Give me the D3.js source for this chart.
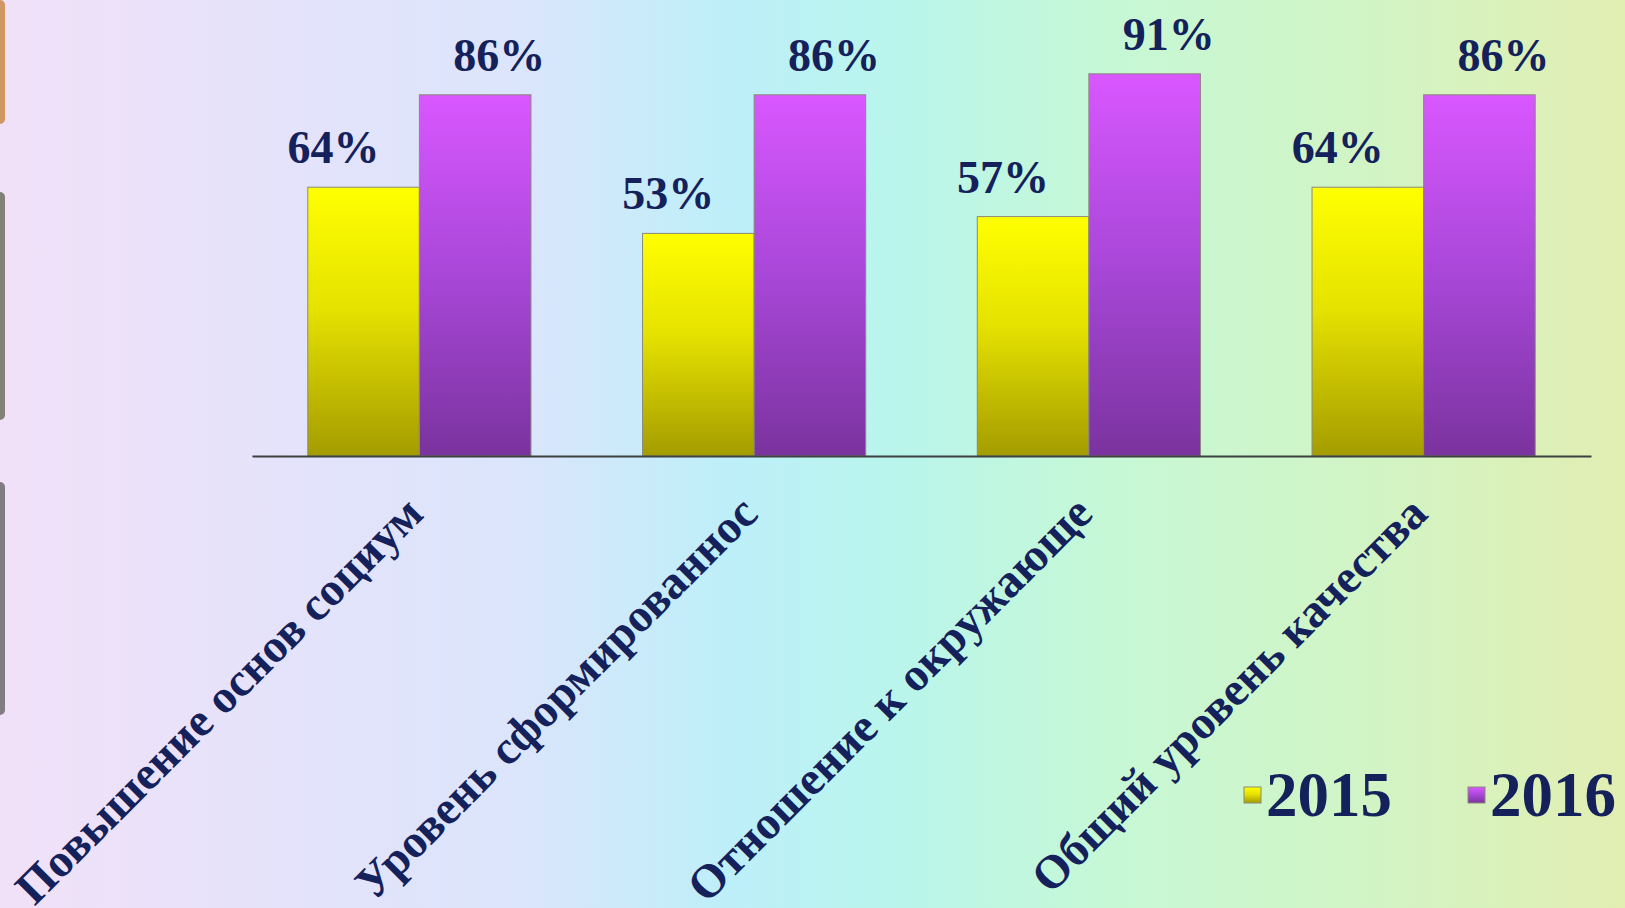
<!DOCTYPE html>
<html>
<head>
<meta charset="utf-8">
<script src="https://cdn.jsdelivr.net/npm/d3@7"></script>
<style>
    body { margin: 0; padding: 0; overflow: hidden; }
    svg { display: block; }
</style>
</head>
<body>
<svg id="vis_svg"></svg>
<script>
// Data
const categories = [
    'Повышение основ социум',
    'Уровень сформированнос',
    'Отношение к окружающе',
    'Общий уровень качества'
];
const years = ['2015', '2016'];
const values2015 = [64, 53, 57, 64];
const values2016 = [86, 86, 91, 86];
const yTicks = [0, 100];

// Global Variables
let config = {
    'svg': {},
    'plot': {},
    'label': {},
    'legend': {}
};
let scales = {};

function visSetup() {
    config.svg.width = 1625;
    config.svg.height = 908;

    config.plot.left = 252;
    config.plot.right = 1591;
    config.plot.baseline = 456;
    config.plot.top = 36;

    config.label.font = '"Liberation Serif", "Times New Roman", serif';
    config.label.color = '#14215a';

    svg = d3.select('#vis_svg')
        .attr('width', config.svg.width)
        .attr('height', config.svg.height);

    let defs = svg.append('defs');

    // background wash
    let bg = defs.append('linearGradient')
        .attr('id', 'bg')
        .attr('x1', 0).attr('x2', 1).attr('y1', 0).attr('y2', 0);
    [['0%', '#f1e1f8'], ['18%', '#e4e3fb'], ['32%', '#dbe5fb'], ['45%', '#bdeff9'],
     ['55%', '#b9f5ec'], ['68%', '#c6f8d6'], ['85%', '#d2f4c4'], ['100%', '#e2eeb2']]
        .forEach(s => bg.append('stop').attr('offset', s[0]).attr('stop-color', s[1]));

    // bar fills
    let gradYellow = defs.append('linearGradient')
        .attr('id', 'grad2015')
        .attr('x1', 0).attr('x2', 0).attr('y1', 0).attr('y2', 1);
    gradYellow.append('stop').attr('offset', '0%').attr('stop-color', '#ffff00');
    gradYellow.append('stop').attr('offset', '45%').attr('stop-color', '#e6e200');
    gradYellow.append('stop').attr('offset', '100%').attr('stop-color', '#a49c00');

    let gradPurple = defs.append('linearGradient')
        .attr('id', 'grad2016')
        .attr('x1', 0).attr('x2', 0).attr('y1', 0).attr('y2', 1);
    gradPurple.append('stop').attr('offset', '0%').attr('stop-color', '#d957ff');
    gradPurple.append('stop').attr('offset', '50%').attr('stop-color', '#a847d8');
    gradPurple.append('stop').attr('offset', '100%').attr('stop-color', '#7a339e');

    svg.append('rect')
        .attr('width', config.svg.width)
        .attr('height', config.svg.height)
        .style('fill', 'url(#bg)');

    // slide edge decorations on the left
    let edge = svg.append('g');
    [[0, 124, '#c98a48'], [192, 420, '#6f7060'], [482, 715, '#6c6a6c']].forEach(d => {
        edge.append('rect')
            .attr('x', -8).attr('y', d[0])
            .attr('width', 13).attr('height', d[1] - d[0])
            .attr('rx', 5)
            .style('fill', d[2])
            .style('opacity', 0.85);
    });

    scales.x = d3.scaleBand()
        .domain(categories)
        .range([config.plot.left, config.plot.right])
        .paddingInner(1 / 3)
        .paddingOuter(1 / 6);

    scales.inner = d3.scaleBand()
        .domain(years)
        .range([0, scales.x.bandwidth()]);

    scales.y = d3.scaleLinear()
        .domain(d3.extent(yTicks))
        .range([config.plot.baseline, config.plot.top]);

    scales.fill = d3.scaleOrdinal()
        .domain(years)
        .range(['url(#grad2015)', 'url(#grad2016)']);
}

function visDraw() {
    let rows = categories.map((c, i) => ({
        category: c,
        values: [
            {year: years[0], value: values2015[i]},
            {year: years[1], value: values2016[i]}
        ]
    }));

    let groups = svg.append('g')
        .attr('id', 'bars')
        .selectAll('g')
        .data(rows)
        .join('g')
        .attr('transform', d => translate(scales.x(d.category), 0));

    groups.selectAll('rect')
        .data(d => d.values)
        .join('rect')
        .attr('x', d => scales.inner(d.year))
        .attr('y', d => scales.y(d.value))
        .attr('width', scales.inner.bandwidth())
        .attr('height', d => scales.y(0) - scales.y(d.value))
        .style('fill', d => scales.fill(d.year))
        .style('stroke', '#8a8a7a')
        .style('stroke-width', 1);

    // value labels, nudged a little off centre like the original
    let labelShift = {'2015': -30, '2016': 24};
    groups.selectAll('text')
        .data(d => d.values)
        .join('text')
        .attr('x', d => scales.inner(d.year) + scales.inner.bandwidth() / 2 + labelShift[d.year])
        .attr('y', d => scales.y(d.value) - 24)
        .attr('text-anchor', 'middle')
        .style('font-family', config.label.font)
        .style('font-weight', 'bold')
        .style('font-size', '46px')
        .style('fill', config.label.color)
        .text(d => d.value + '%');

    // x axis line
    let xAxis = d3.axisBottom(scales.x).tickSize(0).tickFormat('');
    svg.append('g')
        .attr('transform', translate(0, config.plot.baseline))
        .call(xAxis)
        .call(g => g.select('.domain').attr('stroke', '#3d4040').attr('stroke-width', 2));

    // rotated category labels
    svg.append('g')
        .selectAll('text')
        .data(categories)
        .join('text')
        .attr('transform', d => translate(scales.x(d) + scales.x.bandwidth() / 2 + 6, config.plot.baseline + 60) + ' rotate(-45)')
        .attr('text-anchor', 'end')
        .style('font-family', config.label.font)
        .style('font-weight', 'bold')
        .style('font-size', '47px')
        .style('fill', config.label.color)
        .text(d => d);

    // legend
    let legendX = [1244, 1468];
    let legend = svg.append('g')
        .selectAll('g')
        .data(years)
        .join('g')
        .attr('transform', (d, i) => translate(legendX[i], 787));
    legend.append('rect')
        .attr('width', 17)
        .attr('height', 16)
        .style('fill', d => scales.fill(d))
        .style('stroke', '#8a8a7a')
        .style('stroke-width', 1);
    legend.append('text')
        .attr('x', 22)
        .attr('y', 29)
        .style('font-family', config.label.font)
        .style('font-weight', 'bold')
        .style('font-size', '63px')
        .style('fill', config.label.color)
        .text(d => d);
}

// Helper functions
function translate(x, y) {
    return 'translate(' + x + ',' + y + ')';
}

visSetup();
visDraw();
</script>
</body>
</html>
